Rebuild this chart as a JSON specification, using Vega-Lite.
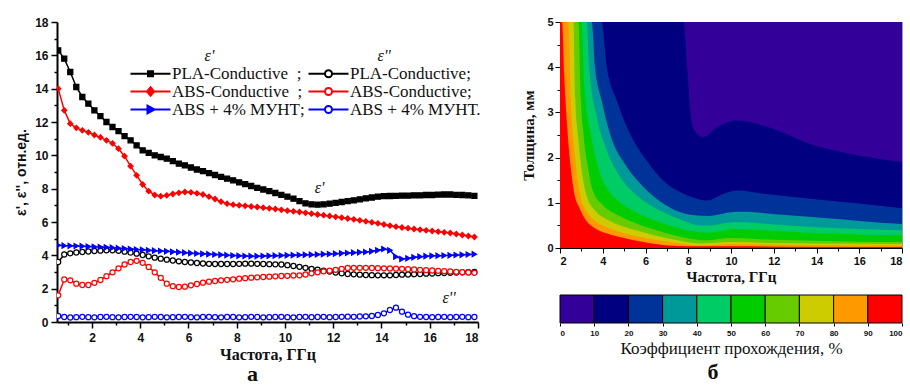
{
  "$schema": "https://vega.github.io/schema/vega-lite/v6.json",
  "padding": {"left": 14, "top": 15, "right": 0, "bottom": 0},
  "background": "white",
  "config": {
    "view": {"stroke": null},
    "axis": {"labelFont": "Liberation Sans", "titleFont": "Liberation Serif", "grid": false, "labelColor": "#111", "titleColor": "#111", "domainColor": "black", "tickColor": "black"},
    "legend": {"labelFont": "Liberation Serif", "labelFontSize": 17, "labelColor": "#111"}
  },
  "datasets": {
    "eps": [
      {"f":0.6,"pla1":16.3,"pla2":3.6,"abs1":14.0,"abs2":1.6,"cnt1":4.6,"cnt2":0.36},
      {"f":0.85,"pla1":15.8,"pla2":4.05,"abs1":12.7,"abs2":2.55,"cnt1":4.58,"cnt2":0.3},
      {"f":1.1,"pla1":15.0,"pla2":4.12,"abs1":11.9,"abs2":2.5,"cnt1":4.57,"cnt2":0.27},
      {"f":1.35,"pla1":14.1,"pla2":4.17,"abs1":11.65,"abs2":2.3,"cnt1":4.56,"cnt2":0.29},
      {"f":1.6,"pla1":13.5,"pla2":4.2,"abs1":11.5,"abs2":2.22,"cnt1":4.55,"cnt2":0.31},
      {"f":1.85,"pla1":13.1,"pla2":4.23,"abs1":11.38,"abs2":2.22,"cnt1":4.53,"cnt2":0.29},
      {"f":2.1,"pla1":12.7,"pla2":4.26,"abs1":11.22,"abs2":2.35,"cnt1":4.51,"cnt2":0.28},
      {"f":2.35,"pla1":12.35,"pla2":4.28,"abs1":11.08,"abs2":2.52,"cnt1":4.5,"cnt2":0.3},
      {"f":2.6,"pla1":12.0,"pla2":4.3,"abs1":10.9,"abs2":2.75,"cnt1":4.48,"cnt2":0.31},
      {"f":2.85,"pla1":11.7,"pla2":4.3,"abs1":10.72,"abs2":2.98,"cnt1":4.46,"cnt2":0.29},
      {"f":3.1,"pla1":11.45,"pla2":4.27,"abs1":10.4,"abs2":3.22,"cnt1":4.43,"cnt2":0.28},
      {"f":3.35,"pla1":11.15,"pla2":4.22,"abs1":9.95,"abs2":3.45,"cnt1":4.41,"cnt2":0.3},
      {"f":3.6,"pla1":10.9,"pla2":4.16,"abs1":9.35,"abs2":3.6,"cnt1":4.38,"cnt2":0.31},
      {"f":3.85,"pla1":10.6,"pla2":4.1,"abs1":8.8,"abs2":3.67,"cnt1":4.35,"cnt2":0.3},
      {"f":4.1,"pla1":10.3,"pla2":4.02,"abs1":8.25,"abs2":3.55,"cnt1":4.33,"cnt2":0.28},
      {"f":4.35,"pla1":10.15,"pla2":3.94,"abs1":7.85,"abs2":3.3,"cnt1":4.3,"cnt2":0.29},
      {"f":4.6,"pla1":10.0,"pla2":3.86,"abs1":7.62,"abs2":2.98,"cnt1":4.28,"cnt2":0.31},
      {"f":4.85,"pla1":9.9,"pla2":3.8,"abs1":7.55,"abs2":2.65,"cnt1":4.26,"cnt2":0.3},
      {"f":5.1,"pla1":9.8,"pla2":3.74,"abs1":7.6,"abs2":2.3,"cnt1":4.24,"cnt2":0.28},
      {"f":5.35,"pla1":9.65,"pla2":3.69,"abs1":7.68,"abs2":2.15,"cnt1":4.21,"cnt2":0.29},
      {"f":5.6,"pla1":9.5,"pla2":3.64,"abs1":7.75,"abs2":2.1,"cnt1":4.19,"cnt2":0.3},
      {"f":5.85,"pla1":9.4,"pla2":3.6,"abs1":7.8,"abs2":2.12,"cnt1":4.16,"cnt2":0.31},
      {"f":6.1,"pla1":9.27,"pla2":3.57,"abs1":7.78,"abs2":2.2,"cnt1":4.13,"cnt2":0.29},
      {"f":6.35,"pla1":9.15,"pla2":3.54,"abs1":7.72,"abs2":2.28,"cnt1":4.11,"cnt2":0.28},
      {"f":6.6,"pla1":9.05,"pla2":3.51,"abs1":7.65,"abs2":2.36,"cnt1":4.09,"cnt2":0.3},
      {"f":6.85,"pla1":8.93,"pla2":3.49,"abs1":7.52,"abs2":2.42,"cnt1":4.07,"cnt2":0.31},
      {"f":7.1,"pla1":8.82,"pla2":3.48,"abs1":7.38,"abs2":2.46,"cnt1":4.05,"cnt2":0.29},
      {"f":7.35,"pla1":8.71,"pla2":3.48,"abs1":7.22,"abs2":2.5,"cnt1":4.03,"cnt2":0.28},
      {"f":7.6,"pla1":8.6,"pla2":3.48,"abs1":7.1,"abs2":2.53,"cnt1":4.01,"cnt2":0.3},
      {"f":7.85,"pla1":8.5,"pla2":3.48,"abs1":7.04,"abs2":2.56,"cnt1":3.99,"cnt2":0.3},
      {"f":8.1,"pla1":8.38,"pla2":3.49,"abs1":7.0,"abs2":2.6,"cnt1":3.97,"cnt2":0.28},
      {"f":8.35,"pla1":8.27,"pla2":3.5,"abs1":6.97,"abs2":2.63,"cnt1":3.96,"cnt2":0.29},
      {"f":8.6,"pla1":8.16,"pla2":3.5,"abs1":6.93,"abs2":2.66,"cnt1":3.95,"cnt2":0.31},
      {"f":8.85,"pla1":8.05,"pla2":3.49,"abs1":6.9,"abs2":2.68,"cnt1":3.95,"cnt2":0.3},
      {"f":9.1,"pla1":7.95,"pla2":3.48,"abs1":6.86,"abs2":2.7,"cnt1":3.96,"cnt2":0.28},
      {"f":9.35,"pla1":7.85,"pla2":3.47,"abs1":6.82,"abs2":2.72,"cnt1":3.97,"cnt2":0.29},
      {"f":9.6,"pla1":7.74,"pla2":3.46,"abs1":6.78,"abs2":2.74,"cnt1":3.98,"cnt2":0.3},
      {"f":9.85,"pla1":7.63,"pla2":3.45,"abs1":6.73,"abs2":2.76,"cnt1":3.99,"cnt2":0.31},
      {"f":10.1,"pla1":7.52,"pla2":3.41,"abs1":6.68,"abs2":2.77,"cnt1":4.0,"cnt2":0.29},
      {"f":10.35,"pla1":7.4,"pla2":3.36,"abs1":6.64,"abs2":2.79,"cnt1":4.01,"cnt2":0.28},
      {"f":10.6,"pla1":7.25,"pla2":3.31,"abs1":6.6,"abs2":2.8,"cnt1":4.02,"cnt2":0.3},
      {"f":10.85,"pla1":7.12,"pla2":3.25,"abs1":6.55,"abs2":2.85,"cnt1":4.03,"cnt2":0.31},
      {"f":11.1,"pla1":7.06,"pla2":3.19,"abs1":6.5,"abs2":2.92,"cnt1":4.04,"cnt2":0.29},
      {"f":11.35,"pla1":7.04,"pla2":3.14,"abs1":6.45,"abs2":2.98,"cnt1":4.05,"cnt2":0.3},
      {"f":11.6,"pla1":7.06,"pla2":3.08,"abs1":6.41,"abs2":3.04,"cnt1":4.07,"cnt2":0.31},
      {"f":11.85,"pla1":7.1,"pla2":3.03,"abs1":6.36,"abs2":3.08,"cnt1":4.08,"cnt2":0.29},
      {"f":12.1,"pla1":7.15,"pla2":2.97,"abs1":6.31,"abs2":3.13,"cnt1":4.1,"cnt2":0.3},
      {"f":12.35,"pla1":7.2,"pla2":2.92,"abs1":6.26,"abs2":3.19,"cnt1":4.12,"cnt2":0.31},
      {"f":12.6,"pla1":7.25,"pla2":2.88,"abs1":6.21,"abs2":3.24,"cnt1":4.14,"cnt2":0.32},
      {"f":12.85,"pla1":7.3,"pla2":2.86,"abs1":6.16,"abs2":3.25,"cnt1":4.16,"cnt2":0.31},
      {"f":13.1,"pla1":7.36,"pla2":2.84,"abs1":6.1,"abs2":3.25,"cnt1":4.18,"cnt2":0.33},
      {"f":13.35,"pla1":7.42,"pla2":2.82,"abs1":6.04,"abs2":3.25,"cnt1":4.2,"cnt2":0.34},
      {"f":13.6,"pla1":7.47,"pla2":2.81,"abs1":5.98,"abs2":3.24,"cnt1":4.24,"cnt2":0.36},
      {"f":13.85,"pla1":7.52,"pla2":2.8,"abs1":5.92,"abs2":3.23,"cnt1":4.3,"cnt2":0.42},
      {"f":14.1,"pla1":7.55,"pla2":2.8,"abs1":5.85,"abs2":3.22,"cnt1":4.38,"cnt2":0.52},
      {"f":14.35,"pla1":7.56,"pla2":2.8,"abs1":5.78,"abs2":3.21,"cnt1":4.3,"cnt2":0.72},
      {"f":14.6,"pla1":7.57,"pla2":2.82,"abs1":5.72,"abs2":3.2,"cnt1":3.92,"cnt2":0.86},
      {"f":14.85,"pla1":7.58,"pla2":2.84,"abs1":5.67,"abs2":3.19,"cnt1":3.78,"cnt2":0.62},
      {"f":15.1,"pla1":7.58,"pla2":2.85,"abs1":5.63,"abs2":3.17,"cnt1":3.82,"cnt2":0.44},
      {"f":15.35,"pla1":7.6,"pla2":2.87,"abs1":5.58,"abs2":3.15,"cnt1":3.88,"cnt2":0.35},
      {"f":15.6,"pla1":7.6,"pla2":2.88,"abs1":5.54,"abs2":3.13,"cnt1":3.92,"cnt2":0.31},
      {"f":15.85,"pla1":7.62,"pla2":2.9,"abs1":5.5,"abs2":3.11,"cnt1":3.95,"cnt2":0.3},
      {"f":16.1,"pla1":7.62,"pla2":2.91,"abs1":5.46,"abs2":3.09,"cnt1":3.97,"cnt2":0.29},
      {"f":16.35,"pla1":7.64,"pla2":2.93,"abs1":5.42,"abs2":3.07,"cnt1":3.98,"cnt2":0.3},
      {"f":16.6,"pla1":7.65,"pla2":2.94,"abs1":5.38,"abs2":3.05,"cnt1":3.99,"cnt2":0.31},
      {"f":16.85,"pla1":7.65,"pla2":2.95,"abs1":5.34,"abs2":3.03,"cnt1":4.0,"cnt2":0.29},
      {"f":17.1,"pla1":7.63,"pla2":2.97,"abs1":5.28,"abs2":3.01,"cnt1":4.02,"cnt2":0.3},
      {"f":17.35,"pla1":7.62,"pla2":2.98,"abs1":5.22,"abs2":2.99,"cnt1":4.03,"cnt2":0.31},
      {"f":17.6,"pla1":7.6,"pla2":2.99,"abs1":5.16,"abs2":2.97,"cnt1":4.05,"cnt2":0.29},
      {"f":17.85,"pla1":7.57,"pla2":3.0,"abs1":5.1,"abs2":2.95,"cnt1":4.07,"cnt2":0.3}
    ],
    "lbl": [
      {"f":6.87,"v":15.95,"t":"ε'"},
      {"f":14.11,"v":15.95,"t":"ε''"},
      {"f":11.43,"v":8.04,"t":"ε'"},
      {"f":16.8,"v":1.46,"t":"ε''"}
    ],
    "contour": [
      {"level":0,"f":2,"h":5},{"level":0,"f":18,"h":5},
      {"level":10,"f":2,"h":5},{"level":10,"f":7.78,"h":5},{"level":10,"f":7.95,"h":4.0},{"level":10,"f":8.1,"h":3.0},{"level":10,"f":8.3,"h":2.6},{"level":10,"f":8.7,"h":2.45},{"level":10,"f":9.34,"h":2.67},{"level":10,"f":10.28,"h":2.82},{"level":10,"f":10.9,"h":2.78},{"level":10,"f":12,"h":2.63},{"level":10,"f":13.7,"h":2.3},{"level":10,"f":15.6,"h":2.08},{"level":10,"f":18,"h":1.9},
      {"level":20,"f":2,"h":5},{"level":20,"f":3.95,"h":5},{"level":20,"f":4.19,"h":4.0},{"level":20,"f":4.66,"h":3.26},{"level":20,"f":5.28,"h":2.52},{"level":20,"f":6.06,"h":1.93},{"level":20,"f":6.84,"h":1.49},{"level":20,"f":7.78,"h":1.2},{"level":20,"f":8.4,"h":1.09},{"level":20,"f":8.88,"h":1.05},{"level":20,"f":9.66,"h":1.2},{"level":20,"f":10.3,"h":1.27},{"level":20,"f":11.5,"h":1.2},{"level":20,"f":13.7,"h":1.09},{"level":20,"f":16.1,"h":0.98},{"level":20,"f":18,"h":0.88},
      {"level":30,"f":2,"h":5},{"level":30,"f":3.48,"h":5},{"level":30,"f":3.64,"h":4.0},{"level":30,"f":3.95,"h":3.26},{"level":30,"f":4.34,"h":2.52},{"level":30,"f":5.13,"h":1.79},{"level":30,"f":5.9,"h":1.35},{"level":30,"f":6.84,"h":0.98},{"level":30,"f":7.63,"h":0.79},{"level":30,"f":8.4,"h":0.72},{"level":30,"f":9.0,"h":0.71},{"level":30,"f":10.0,"h":0.79},{"level":30,"f":10.6,"h":0.8},{"level":30,"f":12.2,"h":0.74},{"level":30,"f":14.5,"h":0.66},{"level":30,"f":16,"h":0.6},{"level":30,"f":18,"h":0.53},
      {"level":40,"f":2,"h":5},{"level":40,"f":3.25,"h":5},{"level":40,"f":3.36,"h":4.0},{"level":40,"f":3.72,"h":2.9},{"level":40,"f":4.19,"h":2.15},{"level":40,"f":4.81,"h":1.57},{"level":40,"f":5.5,"h":1.2},{"level":40,"f":6.2,"h":0.95},{"level":40,"f":6.9,"h":0.78},{"level":40,"f":7.8,"h":0.6},{"level":40,"f":8.55,"h":0.5},{"level":40,"f":9.0,"h":0.5},{"level":40,"f":10.1,"h":0.57},{"level":40,"f":11,"h":0.56},{"level":40,"f":12,"h":0.52},{"level":40,"f":14,"h":0.46},{"level":40,"f":16,"h":0.42},{"level":40,"f":18,"h":0.39},
      {"level":50,"f":2,"h":5},{"level":50,"f":3.0,"h":5},{"level":50,"f":3.15,"h":3.5},{"level":50,"f":3.45,"h":2.5},{"level":50,"f":3.8,"h":1.75},{"level":50,"f":4.3,"h":1.25},{"level":50,"f":4.9,"h":0.98},{"level":50,"f":5.5,"h":0.8},{"level":50,"f":6.2,"h":0.65},{"level":50,"f":6.9,"h":0.53},{"level":50,"f":7.6,"h":0.43},{"level":50,"f":8.5,"h":0.35},{"level":50,"f":9.0,"h":0.34},{"level":50,"f":10.1,"h":0.42},{"level":50,"f":11,"h":0.41},{"level":50,"f":12,"h":0.38},{"level":50,"f":14,"h":0.33},{"level":50,"f":16,"h":0.3},{"level":50,"f":18,"h":0.28},
      {"level":60,"f":2,"h":5},{"level":60,"f":2.86,"h":5},{"level":60,"f":2.97,"h":3.3},{"level":60,"f":3.1,"h":2.5},{"level":60,"f":3.3,"h":1.8},{"level":60,"f":3.55,"h":1.25},{"level":60,"f":4.0,"h":0.95},{"level":60,"f":4.8,"h":0.7},{"level":60,"f":5.8,"h":0.5},{"level":60,"f":6.6,"h":0.38},{"level":60,"f":7.2,"h":0.3},{"level":60,"f":8.2,"h":0.2},{"level":60,"f":8.8,"h":0.17},{"level":60,"f":10,"h":0.22},{"level":60,"f":12,"h":0.18},{"level":60,"f":14,"h":0.16},{"level":60,"f":16,"h":0.14},{"level":60,"f":18,"h":0.13},
      {"level":70,"f":2,"h":5},{"level":70,"f":2.63,"h":5},{"level":70,"f":2.72,"h":3.3},{"level":70,"f":2.86,"h":2.4},{"level":70,"f":3.05,"h":1.6},{"level":70,"f":3.25,"h":1.15},{"level":70,"f":3.6,"h":0.85},{"level":70,"f":4.2,"h":0.63},{"level":70,"f":5.0,"h":0.47},{"level":70,"f":5.8,"h":0.36},{"level":70,"f":6.5,"h":0.27},{"level":70,"f":7.5,"h":0.17},{"level":70,"f":8.5,"h":0.1},{"level":70,"f":10,"h":0.13},{"level":70,"f":12,"h":0.11},{"level":70,"f":14,"h":0.1},{"level":70,"f":18,"h":0.09},
      {"level":80,"f":2,"h":5},{"level":80,"f":2.39,"h":5},{"level":80,"f":2.5,"h":3.3},{"level":80,"f":2.65,"h":2.3},{"level":80,"f":2.8,"h":1.6},{"level":80,"f":2.95,"h":1.15},{"level":80,"f":3.2,"h":0.85},{"level":80,"f":3.6,"h":0.62},{"level":80,"f":4.2,"h":0.46},{"level":80,"f":4.9,"h":0.34},{"level":80,"f":5.6,"h":0.26},{"level":80,"f":6.6,"h":0.17},{"level":80,"f":7.8,"h":0.09},{"level":80,"f":8.5,"h":0.06},{"level":80,"f":10,"h":0.09},{"level":80,"f":12,"h":0.07},{"level":80,"f":14,"h":0.06},{"level":80,"f":18,"h":0.05},
      {"level":90,"f":2,"h":5},{"level":90,"f":2.1,"h":5},{"level":90,"f":2.2,"h":3.8},{"level":90,"f":2.35,"h":2.6},{"level":90,"f":2.5,"h":1.8},{"level":90,"f":2.65,"h":1.25},{"level":90,"f":2.9,"h":0.9},{"level":90,"f":3.2,"h":0.62},{"level":90,"f":3.6,"h":0.45},{"level":90,"f":4.2,"h":0.32},{"level":90,"f":4.9,"h":0.23},{"level":90,"f":5.9,"h":0.13},{"level":90,"f":6.9,"h":0.06},{"level":90,"f":8,"h":0.04},{"level":90,"f":10,"h":0.04},{"level":90,"f":12,"h":0.03},{"level":90,"f":18,"h":0.02}
    ],
    "bar": [
      {"lo":0,"hi":10,"level":0},{"lo":10,"hi":20,"level":10},{"lo":20,"hi":30,"level":20},{"lo":30,"hi":40,"level":30},{"lo":40,"hi":50,"level":40},
      {"lo":50,"hi":60,"level":50},{"lo":60,"hi":70,"level":60},{"lo":70,"hi":80,"level":70},{"lo":80,"hi":90,"level":80},{"lo":90,"hi":100,"level":90}
    ]
  },
  "hconcat": [
    {
      "width": 421,
      "height": 300,
      "title": {"text": "а", "orient": "bottom", "font": "Liberation Serif", "fontSize": 22, "fontWeight": "bold", "color": "#111", "offset": 2, "dx": -15},
      "resolve": {"scale": {"shape": "independent", "fill": "independent", "stroke": "independent"}, "axis": {"x": "independent", "y": "independent"}},
      "layer": [
        {
          "data": {"name": "eps"},
          "transform": [{"fold": ["pla1", "pla2", "abs1", "abs2", "cnt1", "cnt2"], "as": ["series", "val"]}],
          "mark": {"type": "line", "strokeWidth": 1.5, "clip": true},
          "encoding": {
            "x": {"field": "f", "type": "quantitative", "scale": {"domain": [0.55, 18], "nice": false, "zero": false},
              "axis": {"orient": "bottom", "values": [2,4,6,8,10,12,14,16,18], "tickSize": 6,
                "tickWidth": 1.5, "domainWidth": 2, "labelFont": "Liberation Sans", "labelFontSize": 12, "labelFontWeight": "bold", "labelPadding": 4,
                "title": "Частота, ГГц", "titleFont": "Liberation Serif", "titleFontSize": 16, "titleFontWeight": "bold", "titlePadding": 3}},
            "y": {"field": "val", "type": "quantitative", "scale": {"domain": [0, 18], "nice": false},
              "axis": {"orient": "left", "values": [0,2,4,6,8,10,12,14,16,18], "tickSize": 6,
                "tickWidth": 1.5, "domainWidth": 2, "labelFont": "Liberation Sans", "labelFontSize": 12, "labelFontWeight": "bold", "labelPadding": 3,
                "title": "ε', ε'', отн.ед.", "titleFont": "Liberation Sans", "titleFontSize": 14, "titleFontWeight": "bold", "titlePadding": 6}},
            "color": {"field": "series", "type": "nominal",
              "scale": {"domain": ["pla1", "pla2", "abs1", "abs2", "cnt1", "cnt2"], "range": ["black", "black", "red", "red", "blue", "blue"]},
              "legend": null}
          }
        },
        {
          "data": {"name": "eps"},
          "transform": [{"fold": ["pla1", "pla2", "abs1", "abs2", "cnt1", "cnt2"], "as": ["series", "val"]}],
          "mark": {"type": "point", "filled": true, "size": 26, "strokeWidth": 1.2, "opacity": 1, "clip": true},
          "encoding": {
            "x": {"field": "f", "type": "quantitative", "scale": {"domain": [0.55, 18], "nice": false, "zero": false}, "axis": null},
            "y": {"field": "val", "type": "quantitative", "scale": {"domain": [0, 18], "nice": false}, "axis": null},
            "shape": {"field": "series", "type": "nominal", "scale": {"domain": ["pla1", "pla2", "abs1", "abs2", "cnt1", "cnt2"], "range": ["square", "circle", "diamond", "circle", "triangle-right", "circle"]}, "legend": null},
            "fill": {"field": "series", "type": "nominal", "scale": {"domain": ["pla1", "pla2", "abs1", "abs2", "cnt1", "cnt2"], "range": ["black", "white", "red", "white", "blue", "white"]}, "legend": null},
            "stroke": {"field": "series", "type": "nominal", "scale": {"domain": ["pla1", "pla2", "abs1", "abs2", "cnt1", "cnt2"], "range": ["black", "black", "red", "red", "blue", "blue"]}, "legend": null}
          }
        },
        {
          "data": {"name": "lbl"},
          "mark": {"type": "text", "font": "Liberation Serif", "fontSize": 16, "fontStyle": "italic", "color": "#111"},
          "encoding": {
            "x": {"field": "f", "type": "quantitative", "scale": {"domain": [0.55, 18], "nice": false, "zero": false},
              "axis": {"orient": "bottom", "values": [1,3,5,7,9,11,13,15,17], "labels": false, "title": null, "domain": false, "tickSize": 3, "tickWidth": 1.5}},
            "y": {"field": "v", "type": "quantitative", "scale": {"domain": [0, 18], "nice": false},
              "axis": {"orient": "left", "values": [1,3,5,7,9,11,13,15,17], "labels": false, "title": null, "domain": false, "tickSize": 3, "tickWidth": 1.5}},
            "text": {"field": "t"}
          }
        },
        {
          "data": {"name": "eps"},
          "transform": [{"fold": ["pla1", "pla2", "abs1", "abs2", "cnt1", "cnt2"], "as": ["series", "val"]}, {"filter": "datum.f < 0"}],
          "mark": {"type": "point", "filled": true, "opacity": 1},
          "encoding": {
            "x": {"field": "f", "type": "quantitative", "scale": {"domain": [0.55, 18], "nice": false, "zero": false}, "axis": null},
            "y": {"field": "val", "type": "quantitative", "scale": {"domain": [0, 18], "nice": false}, "axis": null},
            "shape": {"field": "series", "type": "nominal",
              "scale": {"domain": ["pla1", "pla2", "abs1", "abs2", "cnt1", "cnt2"], "range": [
                "M-1,0H2.5M3.5,0H7M2.5,-0.5H3.5V0.5H2.5Z",
                "M-1,0H2.3M3.7,0H7M2.3,0A0.7,0.7,0,1,1,3.7,0A0.7,0.7,0,1,1,2.3,0Z",
                "M-1,0H2.3M3.7,0H7M3,-0.85L3.7,0L3,0.85L2.3,0Z",
                "M-1,0H2.3M3.7,0H7M2.3,0A0.7,0.7,0,1,1,3.7,0A0.7,0.7,0,1,1,2.3,0Z",
                "M-1,0H2.4M3.8,0H7M2.4,-0.75L3.8,0L2.4,0.75Z",
                "M-1,0H2.3M3.7,0H7M2.3,0A0.7,0.7,0,1,1,3.7,0A0.7,0.7,0,1,1,2.3,0Z"]},
              "legend": {"orient": "none", "legendX": 70, "legendY": 43, "columns": 2, "direction": "horizontal", "columnPadding": -8, "rowPadding": 0, "padding": 0,
                "title": null, "labelFont": "Liberation Serif", "labelFontSize": 17, "labelColor": "#111", "labelOffset": 28, "labelLimit": 300,
                "symbolSize": 100, "symbolStrokeWidth": 2,
                "labelExpr": "datum.value == 'pla1' ? 'PLA-Conductive\u00a0\u00a0;' : datum.value == 'pla2' ? 'PLA-Conductive;' : datum.value == 'abs1' ? 'ABS-Conductive\u00a0\u00a0;' : datum.value == 'abs2' ? 'ABS-Conductive;' : datum.value == 'cnt1' ? 'ABS + 4% МУНТ;' : 'ABS + 4% МУНТ.'"}},
            "fill": {"field": "series", "type": "nominal", "scale": {"domain": ["pla1", "pla2", "abs1", "abs2", "cnt1", "cnt2"], "range": ["black", "white", "red", "white", "blue", "white"]},
              "legend": {"orient": "none", "legendX": 70, "legendY": 43, "columns": 2, "direction": "horizontal", "columnPadding": -8, "rowPadding": 0, "padding": 0,
                "title": null, "labelFont": "Liberation Serif", "labelFontSize": 17, "labelColor": "#111", "labelOffset": 28, "labelLimit": 300,
                "symbolSize": 100, "symbolStrokeWidth": 2,
                "labelExpr": "datum.value == 'pla1' ? 'PLA-Conductive\u00a0\u00a0;' : datum.value == 'pla2' ? 'PLA-Conductive;' : datum.value == 'abs1' ? 'ABS-Conductive\u00a0\u00a0;' : datum.value == 'abs2' ? 'ABS-Conductive;' : datum.value == 'cnt1' ? 'ABS + 4% МУНТ;' : 'ABS + 4% МУНТ.'"}},
            "stroke": {"field": "series", "type": "nominal", "scale": {"domain": ["pla1", "pla2", "abs1", "abs2", "cnt1", "cnt2"], "range": ["black", "black", "red", "red", "blue", "blue"]},
              "legend": {"orient": "none", "legendX": 70, "legendY": 43, "columns": 2, "direction": "horizontal", "columnPadding": -8, "rowPadding": 0, "padding": 0,
                "title": null, "labelFont": "Liberation Serif", "labelFontSize": 17, "labelColor": "#111", "labelOffset": 28, "labelLimit": 300,
                "symbolSize": 100, "symbolStrokeWidth": 2,
                "labelExpr": "datum.value == 'pla1' ? 'PLA-Conductive\u00a0\u00a0;' : datum.value == 'pla2' ? 'PLA-Conductive;' : datum.value == 'abs1' ? 'ABS-Conductive\u00a0\u00a0;' : datum.value == 'abs2' ? 'ABS-Conductive;' : datum.value == 'cnt1' ? 'ABS + 4% МУНТ;' : 'ABS + 4% МУНТ.'"}}
          }
        }
      ]
    },
    {
      "spacing": 47,
      "bounds": "flush",
      "vconcat": [
        {
          "width": 342,
          "height": 226,
          "view": {"stroke": "#999", "strokeWidth": 1},
          "data": {"name": "contour"},
          "mark": {"type": "area", "interpolate": "monotone", "clip": true},
          "encoding": {
            "x": {"field": "f", "type": "quantitative", "scale": {"domain": [2, 18], "nice": false, "zero": false},
              "axis": {"values": [2,3,4,5,6,7,8,9,10,11,12,13,14,15,16,17,18], "labelExpr": "datum.value % 2 === 0 ? datum.label : ''",
                "tickSize": {"condition": {"test": "datum.value % 2 === 0", "value": 5}, "value": 3},
                "labelFont": "Liberation Sans", "labelFontSize": 11, "labelFontWeight": "bold", "labelPadding": 2,
                "title": "Частота, ГГц", "titleFont": "Liberation Serif", "titleFontSize": 15, "titleFontWeight": "bold", "titlePadding": 3}},
            "y": {"field": "h", "type": "quantitative", "stack": null, "scale": {"domain": [0, 5], "nice": false},
              "axis": {"values": [0,0.5,1,1.5,2,2.5,3,3.5,4,4.5,5], "labelExpr": "datum.value % 1 === 0 ? format(datum.value, 'd') : ''",
                "tickSize": {"condition": {"test": "datum.value % 1 === 0", "value": 5}, "value": 3},
                "labelFont": "Liberation Sans", "labelFontSize": 11, "labelFontWeight": "bold", "labelPadding": 2,
                "title": "Толщина, мм", "titleFont": "Liberation Serif", "titleFontSize": 15, "titleFontWeight": "bold", "titlePadding": 10}},
            "color": {"field": "level", "type": "ordinal",
              "scale": {"domain": [0,10,20,30,40,50,60,70,80,90], "range": ["#330099","#000080","#003399","#009999","#00cc66","#00cc00","#66cc00","#cccc00","#ff9900","#ff0000"]},
              "legend": null}
          }
        },
        {
          "width": 342,
          "height": 28,
          "title": {"text": "б", "orient": "bottom", "font": "Liberation Serif", "fontSize": 22, "fontWeight": "bold", "color": "#111", "offset": 6, "dx": -18},
          "data": {"name": "bar"},
          "mark": {"type": "rect", "stroke": "black", "strokeWidth": 1},
          "encoding": {
            "x": {"field": "lo", "type": "quantitative", "scale": {"domain": [0, 100], "nice": false},
              "axis": {"values": [0,10,20,30,40,50,60,70,80,90,100], "tickSize": 3, "domain": false, "labelFont": "Liberation Sans", "labelFontSize": 8, "labelFontWeight": "bold", "labelPadding": 3,
                "title": "Коэффициент прохождения, %", "titleFont": "Liberation Serif", "titleFontSize": 17, "titleFontWeight": "normal", "titlePadding": 3}},
            "x2": {"field": "hi"},
            "color": {"field": "level", "type": "ordinal",
              "scale": {"domain": [0,10,20,30,40,50,60,70,80,90], "range": ["#330099","#000080","#003399","#009999","#00cc66","#00cc00","#66cc00","#cccc00","#ff9900","#ff0000"]},
              "legend": null}
          }
        }
      ]
    }
  ],
  "spacing": 82,
  "bounds": "flush",
  "resolve": {"scale": {"color": "independent"}}
}
